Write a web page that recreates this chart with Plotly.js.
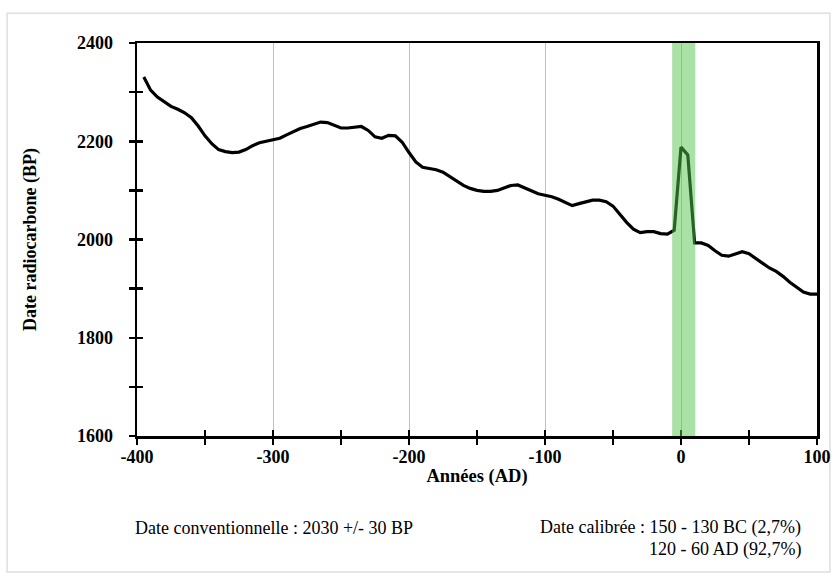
<!DOCTYPE html>
<html>
<head>
<meta charset="utf-8">
<script src="https://cdn.plot.ly/plotly-3.0.1.min.js"></script>
<style>html,body{margin:0;padding:0;background:#fff;}#chart{width:834px;height:576px;}</style>
</head>
<body>
<div id="chart"></div>
<script>
const years = [-395,-390,-385,-380,-375,-370,-365,-360,-355,-350,-345,-340,-335,-330,-325,-320,-315,-310,-305,-300,
  -295,-290,-285,-280,-275,-270,-265,-260,-255,-250,-245,-240,-235,-230,-225,-220,-215,-210,-205,-200,
  -195,-190,-185,-180,-175,-170,-165,-160,-155,-150,-145,-140,-135,-130,-125,-120,-115,-110,-105,-100,
  -95,-90,-85,-80,-75,-70,-65,-60,-55,-50,-45,-40,-35,-30,-25,-20,-15,-10,-5,0,
  5,10,15,20,25,30,35,40,45,50,55,60,65,70,75,80,85,90,95,100];
const bp = [2331,2304,2290,2280,2271,2265,2258,2248,2231,2211,2195,2183,2179,2177,2178,2183,2191,2197,2200,2202,
  2206,2213,2220,2226,2230,2235,2239,2238,2232,2227,2227,2228,2230,2222,2209,2206,2212,2211,2198,2177,
  2158,2147,2144,2142,2137,2128,2119,2110,2104,2100,2098,2098,2100,2105,2110,2111,2105,2098,2093,2090,
  2087,2082,2075,2069,2073,2077,2080,2080,2077,2068,2051,2035,2021,2014,2016,2016,2012,2011,2019,2188,
  2172,1993,1993,1988,1977,1968,1966,1970,1975,1971,1961,1950,1942,1935,1925,1913,1902,1893,1889,1889];
const xTickVals = [-400, -300, -200, -100, 0, 100];
const xTickText = ["-400", "-300", "-200", "-100", "0", "100"];
const yTickVals = [1600, 1800, 2000, 2200, 2400];
const yTickText = ["1600", "1800", "2000", "2200", "2400"];
const band = [-6.5, 10.5];
const xTitle = "Années (AD)";
const yTitle = "Date radiocarbone (BP)";
const noteLeft = "Date conventionnelle : 2030 +/- 30 BP";
const noteRight1 = "Date calibrée : 150 - 130 BC (2,7%)";
const noteRight2 = "120 - 60 AD (92,7%)";

const FONT = "'Liberation Serif', 'DejaVu Serif', serif";

const traces = [
  {x: years, y: bp, type: 'scatter', mode: 'lines', line: {color: '#000', width: 3.2}, hoverinfo: 'x+y', showlegend: false},
  {x: [], y: [], xaxis: 'x2', yaxis: 'y2', type: 'scatter', mode: 'lines', showlegend: false, hoverinfo: 'skip'}
];

const tickCommon = {ticklen: 6, tickwidth: 2.5, tickcolor: '#000'};

const layout = {
  width: 834, height: 576,
  margin: {l: 137, r: 17, t: 43, b: 140},
  paper_bgcolor: '#fff', plot_bgcolor: '#fff',
  font: {family: FONT, color: '#000'},
  showlegend: false,
  xaxis: Object.assign({
    range: [-400, 100], tickmode: 'array', tickvals: xTickVals, ticktext: xTickText,
    ticks: 'outside', showline: true, linecolor: '#000', linewidth: 2.5, mirror: true,
    showgrid: true, gridcolor: '#c0c0c0', gridwidth: 1, zeroline: false,
    tickfont: {family: FONT, size: 18, weight: 'bold', color: '#000'},
    minor: {dtick: 50, tick0: -400, ticks: 'outside', ticklen: 6, tickwidth: 2.5, tickcolor: '#000', showgrid: false},
    title: {text: xTitle, font: {family: FONT, size: 18.5, weight: 'bold', color: '#000'}, standoff: 3},
    ticklabelstandoff: -3,
    automargin: false
  }, tickCommon),
  yaxis: Object.assign({
    range: [1600, 2400], tickmode: 'array', tickvals: yTickVals, ticktext: yTickText,
    ticks: 'outside', showline: true, linecolor: '#000', linewidth: 2.5, mirror: true,
    showgrid: false, zeroline: false,
    tickfont: {family: FONT, size: 18, weight: 'bold', color: '#000'},
    minor: {dtick: 100, tick0: 1600, ticks: 'outside', ticklen: 6, tickwidth: 2.5, tickcolor: '#000', showgrid: false},
    title: {text: yTitle, font: {family: FONT, size: 18, weight: 'bold', color: '#000'}, standoff: 36},
    ticklabelstandoff: 12,
    automargin: false
  }, tickCommon),
  xaxis2: Object.assign({
    overlaying: 'x', anchor: 'y2', side: 'bottom', range: [-400, 100],
    tickmode: 'linear', tick0: -400, dtick: 50, ticks: 'inside',
    showticklabels: false, showline: false, showgrid: false, zeroline: false
  }, tickCommon),
  yaxis2: Object.assign({
    overlaying: 'y', anchor: 'x2', side: 'left', range: [1600, 2400],
    tickmode: 'linear', tick0: 1600, dtick: 100, ticks: 'inside',
    showticklabels: false, showline: false, showgrid: false, zeroline: false
  }, tickCommon),
  shapes: [
    {type: 'rect', xref: 'x', yref: 'paper', x0: band[0], x1: band[1], y0: 0, y1: 1,
     fillcolor: 'rgba(85,195,75,0.5)', line: {width: 0}, layer: 'above'},
    {type: 'rect', xref: 'paper', yref: 'paper', x0: -0.191, x1: 1.019, y0: -0.346, y1: 1.076,
     fillcolor: 'rgba(0,0,0,0)', line: {color: '#dedede', width: 1.5}, layer: 'below'}
  ],
  annotations: [
    {text: noteLeft, xref: 'paper', yref: 'paper', x: -0.006, y: -0.234, xanchor: 'left', yanchor: 'middle',
     showarrow: false, font: {family: FONT, size: 18, color: '#000'}},
    {text: noteRight1, xref: 'paper', yref: 'paper', x: 0.979, y: -0.234, xanchor: 'right', yanchor: 'middle',
     showarrow: false, font: {family: FONT, size: 18, color: '#000'}},
    {text: noteRight2, xref: 'paper', yref: 'paper', x: 0.979, y: -0.290, xanchor: 'right', yanchor: 'middle',
     showarrow: false, font: {family: FONT, size: 18, color: '#000'}}
  ]
};

Plotly.newPlot('chart', traces, layout, {displayModeBar: false, staticPlot: true});
</script>
</body>
</html>
